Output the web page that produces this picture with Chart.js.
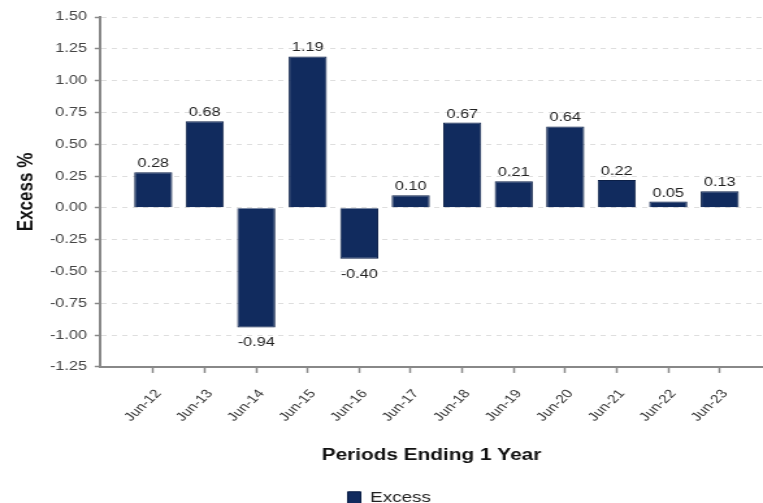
<!DOCTYPE html>
<html>
<head>
<meta charset="utf-8">
<script src="https://cdn.jsdelivr.net/npm/chart.js@4.4.0/dist/chart.umd.min.js"></script>
<style>
  html, body { margin: 0; padding: 0; background: #fff; overflow: hidden; }
  /* the original picture is stretched sideways, so draw narrow and scale up */
  #wrap { width: 587px; height: 503px; transform: scale(1.2998, 1); transform-origin: 0 0; }
</style>
</head>
<body>
<div id="wrap"><canvas id="excessChart"></canvas></div>
<script>
const periods = ["Jun-12", "Jun-13", "Jun-14", "Jun-15", "Jun-16", "Jun-17",
                 "Jun-18", "Jun-19", "Jun-20", "Jun-21", "Jun-22", "Jun-23"];
const excess = [0.28, 0.68, -0.94, 1.19, -0.40, 0.10, 0.67, 0.21, 0.64, 0.22, 0.05, 0.13];
const yMin = -1.25;
const yMax = 1.5;
const yStep = 0.25;

Chart.defaults.font.family = "'Liberation Sans', Arial, sans-serif";
Chart.defaults.color = '#333';

const barLabels = {
    id: 'barLabels',
    afterDatasetsDraw(chart) {
        const ctx = chart.ctx;
        const meta = chart.getDatasetMeta(0);
        ctx.save();
        ctx.font = "12.5px 'Liberation Sans', Arial, sans-serif";
        ctx.fillStyle = '#222';
        ctx.textAlign = 'center';
        ctx.textBaseline = 'alphabetic';
        meta.data.forEach((bar, i) => {
            const v = excess[i];
            const y = v >= 0 ? bar.y - 5 : bar.y + 19;
            ctx.fillText(v.toFixed(2), bar.x, y);
        });
        ctx.restore();
    }
};

// legend sits a little right of centre in the original
const nudgeLegend = {
    id: 'nudgeLegend',
    afterLayout(chart) {
        chart.legend.left += 6;
        chart.legend.right += 6;
    }
};

const ctx = document.getElementById('excessChart').getContext('2d');

const chart = new Chart(ctx, {
    type: 'bar',
    data: {
        datasets: [{
            label: 'Excess',
            data: excess.map((v, i) => ({ x: i, y: v })),
            backgroundColor: '#112b5e',
            borderColor: '#0b1f47',
            borderWidth: 1,
            categoryPercentage: 1,
            barPercentage: 0.74
        }]
    },
    options: {
        responsive: true,
        maintainAspectRatio: false,
        animation: false,
        devicePixelRatio: 1,
        layout: { padding: { top: 17, left: 0, right: 0, bottom: -12 } },
        plugins: {
            tooltip: { enabled: false },
            legend: {
                position: 'bottom',
                labels: {
                    boxWidth: 10,
                    boxHeight: 12,
                    padding: 2,
                    color: '#222',
                    font: { size: 14.5 }
                }
            }
        },
        scales: {
            x: {
                type: 'linear',
                offset: false,
                min: -1.035,
                max: 11.84,
                afterBuildTicks: (scale) => {
                    scale.ticks = periods.map((_, i) => ({ value: i }));
                },
                grid: {
                    offset: false,
                    drawOnChartArea: false,
                    tickLength: 6,
                    tickColor: '#888',
                    tickWidth: 1.5
                },
                border: { color: '#888', width: 2 },
                ticks: {
                    autoSkip: false,
                    minRotation: 50,
                    maxRotation: 50,
                    padding: 14,
                    labelOffset: 4,
                    color: '#333',
                    font: { size: 12 },
                    callback: (v) => periods[v] ?? ''
                },
                title: {
                    display: true,
                    text: 'Periods Ending 1 Year',
                    color: '#111',
                    font: { size: 16, weight: 'bold' },
                    padding: { top: 8, bottom: 23 }
                }
            },
            y: {
                min: yMin,
                max: yMax,
                grid: {
                    color: 'rgba(0,0,0,0.13)',
                    lineWidth: 1,
                    tickColor: '#888',
                    tickLength: 4,
                    tickWidth: 1.5
                },
                border: { color: '#888', width: 2, dash: [4, 4] },
                ticks: {
                    stepSize: yStep,
                    padding: 6,
                    color: '#444',
                    font: { size: 12.5 },
                    callback: (v) => (Math.abs(v) < 1e-9 ? 0 : v).toFixed(2)
                },
                title: {
                    display: true,
                    text: 'Excess %',
                    color: '#111',
                    font: { size: 17, weight: 'bold' },
                    padding: { top: 10.6, bottom: 1.4 }
                }
            }
        }
    },
    plugins: [barLabels, nudgeLegend]
});
</script>
</body>
</html>
